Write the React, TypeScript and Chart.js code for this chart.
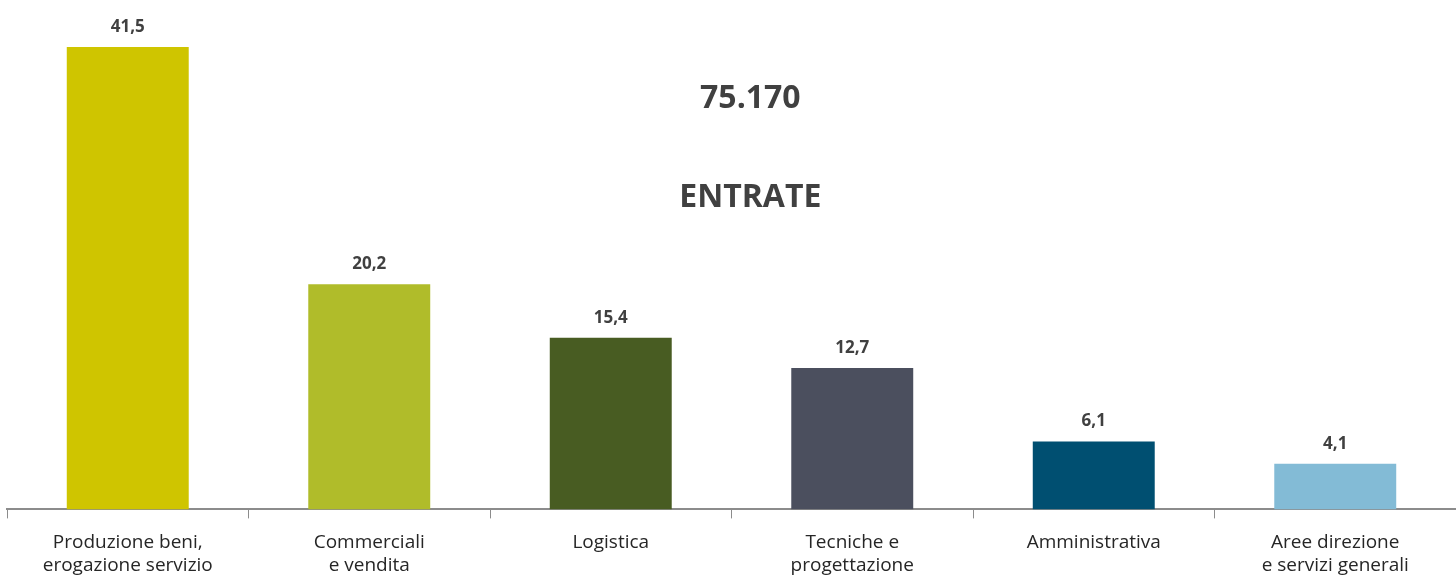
import React, { useEffect, useRef } from "react";
import { Chart, registerables } from "chart.js";

Chart.register(...registerables);

const categories: string[][] = [
  ["Produzione beni,", "erogazione servizio"],
  ["Commerciali", "e vendita"],
  ["Logistica"],
  ["Tecniche e", "progettazione"],
  ["Amministrativa"],
  ["Aree direzione", "e servizi generali"],
];
const values: number[] = [41.5, 20.2, 15.4, 12.7, 6.1, 4.1];
const barColors: string[] = ["#CFC500", "#B0BC2A", "#485C22", "#4B4F5E", "#004F71", "#83BBD6"];
const totalLabel = "75.170";
const titleLabel = "ENTRATE";

const fmt = (v: number) => v.toFixed(1).replace(".", ",");

const valueLabelsPlugin = {
  id: "valueLabels",
  afterDatasetsDraw(chart: any) {
    const ctx = chart.ctx;
    const meta = chart.getDatasetMeta(0);
    ctx.save();
    ctx.font = "bold 17px 'Open Sans'";
    ctx.fillStyle = "#404040";
    ctx.textAlign = "center";
    ctx.textBaseline = "alphabetic";
    meta.data.forEach((bar: any, i: number) => {
      ctx.fillText(fmt(values[i]), bar.x, bar.y - 15);
    });
    ctx.restore();
  },
};

const centerTextPlugin = {
  id: "centerText",
  afterDraw(chart: any) {
    const { ctx, chartArea } = chart;
    const x = chartArea.left + chartArea.width * 0.513;
    ctx.save();
    ctx.font = "bold 32px 'Open Sans'";
    ctx.fillStyle = "#404040";
    ctx.textAlign = "center";
    ctx.textBaseline = "alphabetic";
    ctx.fillText(totalLabel, x, 108);
    ctx.fillText(titleLabel, x, 207);
    ctx.restore();
  },
};

const W = 1456;
const H = 595;

export default function App() {
  const ref = useRef<HTMLCanvasElement | null>(null);
  useEffect(() => {
    document.body.style.margin = "0";
    if (!ref.current) return;
    const chart = new Chart(ref.current, {
      type: "bar",
      data: {
        labels: categories,
        datasets: [
          {
            data: values,
            backgroundColor: barColors,
            borderWidth: 0,
            barPercentage: 0.505,
            categoryPercentage: 1,
          },
        ],
      },
      options: {
        animation: false,
        responsive: false,
        maintainAspectRatio: false,
        layout: { padding: { left: 7, right: 0, top: 8, bottom: 5 } },
        plugins: {
          legend: { display: false },
          tooltip: { enabled: false },
          title: { display: false },
        },
        scales: {
          x: {
            offset: true,
            grid: {
              offset: true,
              drawOnChartArea: false,
              drawTicks: true,
              tickLength: 9,
              color: "#8C8C8C",
              lineWidth: 1,
            },
            border: { display: true, color: "#8C8C8C", width: 2 },
            ticks: {
              color: "#262626",
              font: { family: "'Open Sans'", size: 19, lineHeight: 1.2 },
              padding: 13,
              maxRotation: 0,
              autoSkip: false,
            },
          },
          y: {
            display: false,
            min: 0,
            max: 45,
          },
        },
      },
      plugins: [valueLabelsPlugin, centerTextPlugin],
    });
    return () => chart.destroy();
  }, []);
  return (
    <div style={{ position: "absolute", left: 0, top: 0, width: 1456, height: 581, overflow: "hidden" }}>
      <canvas ref={ref} width={W} height={H} style={{ width: W, height: H, display: "block" }} />
    </div>
  );
}
